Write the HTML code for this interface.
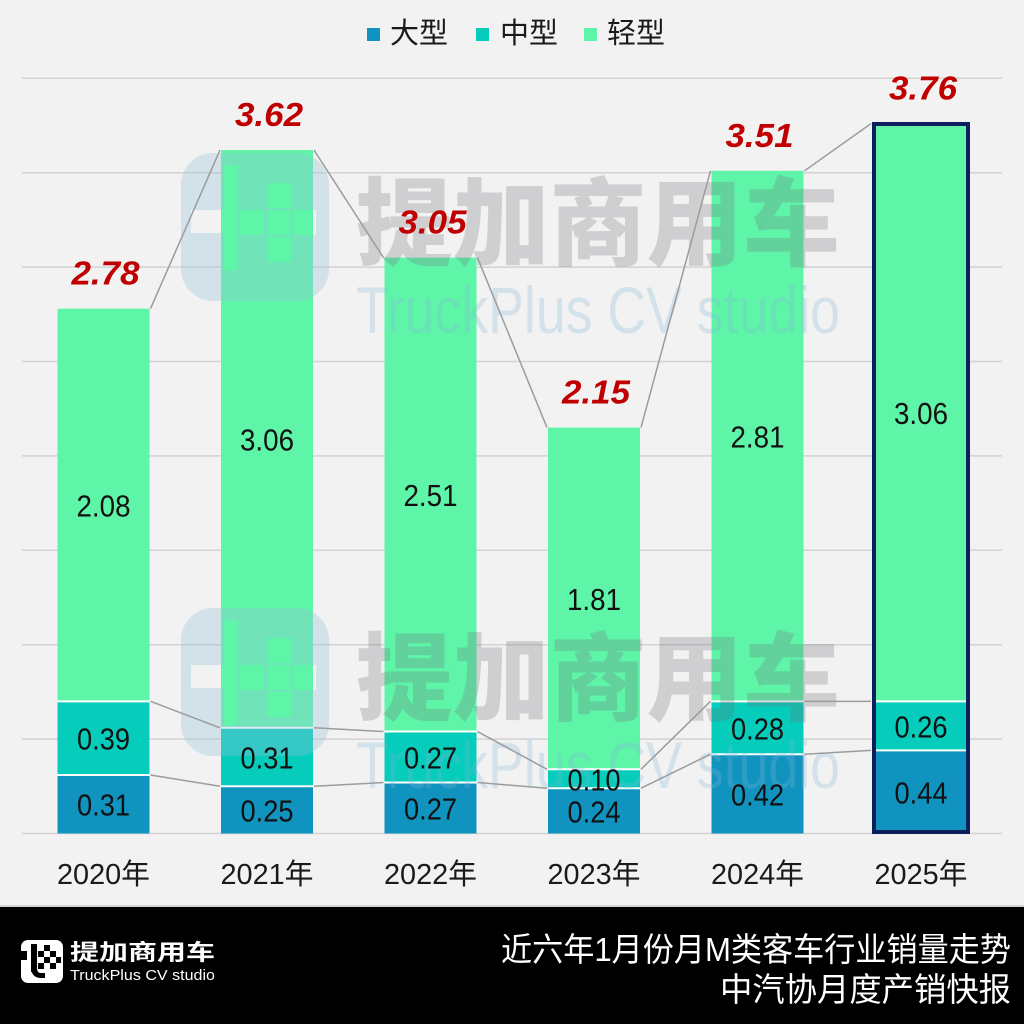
<!DOCTYPE html>
<html><head><meta charset="utf-8"><style>
html,body{margin:0;padding:0;background:#f2f2f2;width:1024px;height:1024px;overflow:hidden}
svg{display:block}
text{font-family:"Liberation Sans","Noto Sans CJK SC",sans-serif}
</style></head><body>
<svg width="1024" height="1024" viewBox="0 0 1024 1024" xmlns="http://www.w3.org/2000/svg">
<rect x="0" y="0" width="1024" height="1024" fill="#f2f2f2"/>
<!-- legend -->
<rect x="367" y="28" width="13" height="13" fill="#1094bf"/>
<text x="390" y="43" font-size="29" fill="#1a1a1a" font-family="'Noto Sans CJK SC',sans-serif">大型</text>
<rect x="476" y="28" width="13" height="13" fill="#06cdbb"/>
<text x="500" y="43" font-size="29" fill="#1a1a1a" font-family="'Noto Sans CJK SC',sans-serif">中型</text>
<rect x="584" y="28" width="13" height="13" fill="#5ff5a9"/>
<text x="607" y="43" font-size="29" fill="#1a1a1a" font-family="'Noto Sans CJK SC',sans-serif">轻型</text>
<!-- gridlines -->
<g stroke="#d3d3d3" stroke-width="1.5">
<line x1="22" y1="78.3" x2="1002" y2="78.3"/>
<line x1="22" y1="172.7" x2="1002" y2="172.7"/>
<line x1="22" y1="267.1" x2="1002" y2="267.1"/>
<line x1="22" y1="361.5" x2="1002" y2="361.5"/>
<line x1="22" y1="455.9" x2="1002" y2="455.9"/>
<line x1="22" y1="550.3" x2="1002" y2="550.3"/>
<line x1="22" y1="644.7" x2="1002" y2="644.7"/>
<line x1="22" y1="739.1" x2="1002" y2="739.1"/>
<line x1="22" y1="833.5" x2="1002" y2="833.5"/>
</g>
<!-- bars -->
<g>
<rect x="57.5" y="774.97" width="92" height="58.53" fill="#1094bf"/>
<rect x="57.5" y="701.34" width="92" height="73.63" fill="#06cdbb"/>
<rect x="57.5" y="308.64" width="92" height="392.7" fill="#5ff5a9"/>

<rect x="221" y="786.3" width="92" height="47.2" fill="#1094bf"/>
<rect x="221" y="727.77" width="92" height="58.53" fill="#06cdbb"/>
<rect x="221" y="150.04" width="92" height="577.73" fill="#5ff5a9"/>

<rect x="384.5" y="782.52" width="92" height="50.98" fill="#1094bf"/>
<rect x="384.5" y="731.55" width="92" height="50.97" fill="#06cdbb"/>
<rect x="384.5" y="257.66" width="92" height="473.89" fill="#5ff5a9"/>

<rect x="548" y="788.19" width="92" height="45.31" fill="#1094bf"/>
<rect x="548" y="769.31" width="92" height="18.88" fill="#06cdbb"/>
<rect x="548" y="427.58" width="92" height="341.73" fill="#5ff5a9"/>

<rect x="711.5" y="754.2" width="92" height="79.3" fill="#1094bf"/>
<rect x="711.5" y="701.34" width="92" height="52.86" fill="#06cdbb"/>
<rect x="711.5" y="170.81" width="92" height="530.53" fill="#5ff5a9"/>

<rect x="873" y="750.43" width="96" height="83.07" fill="#1094bf"/>
<rect x="873" y="701.34" width="96" height="49.09" fill="#06cdbb"/>
<rect x="873" y="123.61" width="96" height="577.73" fill="#5ff5a9"/>
</g>
<!-- white separators -->
<g stroke="#ffffff" stroke-width="2">
<line x1="57.5" y1="774.97" x2="149.5" y2="774.97"/><line x1="57.5" y1="701.34" x2="149.5" y2="701.34"/>
<line x1="221" y1="786.3" x2="313" y2="786.3"/><line x1="221" y1="727.77" x2="313" y2="727.77"/>
<line x1="384.5" y1="782.52" x2="476.5" y2="782.52"/><line x1="384.5" y1="731.55" x2="476.5" y2="731.55"/>
<line x1="548" y1="788.19" x2="640" y2="788.19"/><line x1="548" y1="769.31" x2="640" y2="769.31"/>
<line x1="711.5" y1="754.2" x2="803.5" y2="754.2"/><line x1="711.5" y1="701.34" x2="803.5" y2="701.34"/>
<line x1="873" y1="750.43" x2="969" y2="750.43"/><line x1="873" y1="701.34" x2="969" y2="701.34"/>
</g>
<rect x="874" y="124" width="94" height="708" fill="none" stroke="#0b1f5c" stroke-width="4"/>
<!-- watermarks -->
<g>
<g transform="translate(181,153)">
<path fill-rule="evenodd" fill="rgb(150,190,215)" fill-opacity="0.33" d="M32,0 h84 a32,32 0 0 1 32,32 v84 a32,32 0 0 1 -32,32 h-84 a32,32 0 0 1 -32,-32 v-84 a32,32 0 0 1 32,-32 z M43,12 h13 v105 h-13 z M10,57 h33 v23 h-33 z M86,30 h24 v25 h-24 z M58,57 h25 v25 h-25 z M86,57 h24 v25 h-24 z M113,57 h22 v25 h-22 z M86,84 h24 v25 h-24 z"/>
</g>
<text x="356" y="258" font-size="96" font-weight="900" fill="rgb(110,110,118)" fill-opacity="0.26" textLength="484" lengthAdjust="spacingAndGlyphs" font-family="'Noto Sans CJK SC',sans-serif">提加商用车</text>
<text x="356" y="333" font-size="66" fill="rgb(130,180,215)" fill-opacity="0.27" textLength="484" lengthAdjust="spacingAndGlyphs">TruckPlus CV studio</text>

<g transform="translate(181,608)">
<path fill-rule="evenodd" fill="rgb(150,190,215)" fill-opacity="0.33" d="M32,0 h84 a32,32 0 0 1 32,32 v84 a32,32 0 0 1 -32,32 h-84 a32,32 0 0 1 -32,-32 v-84 a32,32 0 0 1 32,-32 z M43,12 h13 v105 h-13 z M10,57 h33 v23 h-33 z M86,30 h24 v25 h-24 z M58,57 h25 v25 h-25 z M86,57 h24 v25 h-24 z M113,57 h22 v25 h-22 z M86,84 h24 v25 h-24 z"/>
</g>
<text x="356" y="713" font-size="96" font-weight="900" fill="rgb(110,110,118)" fill-opacity="0.26" textLength="484" lengthAdjust="spacingAndGlyphs" font-family="'Noto Sans CJK SC',sans-serif">提加商用车</text>
<text x="356" y="788" font-size="66" fill="rgb(130,180,215)" fill-opacity="0.27" textLength="484" lengthAdjust="spacingAndGlyphs">TruckPlus CV studio</text>
</g>
<!-- connectors -->
<g stroke="#9c9c9c" stroke-width="1.5" fill="none">
<line x1="150.5" y1="308.64" x2="220" y2="150.04"/><line x1="150.5" y1="701.34" x2="220" y2="727.77"/><line x1="150.5" y1="774.97" x2="220" y2="786.3"/>
<line x1="314" y1="150.04" x2="383.5" y2="257.66"/><line x1="314" y1="727.77" x2="383.5" y2="731.55"/><line x1="314" y1="786.3" x2="383.5" y2="782.52"/>
<line x1="477.5" y1="257.66" x2="547" y2="427.58"/><line x1="477.5" y1="731.55" x2="547" y2="769.31"/><line x1="477.5" y1="782.52" x2="547" y2="788.19"/>
<line x1="641" y1="427.58" x2="710.5" y2="170.81"/><line x1="641" y1="769.31" x2="710.5" y2="701.34"/><line x1="641" y1="788.19" x2="710.5" y2="754.2"/>
<line x1="804.5" y1="170.81" x2="871" y2="123.61"/><line x1="804.5" y1="701.34" x2="871" y2="701.34"/><line x1="804.5" y1="754.2" x2="871" y2="750.43"/>
</g>
<!-- inner labels -->
<g font-size="31" fill="#111" text-anchor="middle">
<text x="103.5" y="815.7" textLength="53" lengthAdjust="spacingAndGlyphs">0.31</text>
<text x="103.5" y="749.7" textLength="53" lengthAdjust="spacingAndGlyphs">0.39</text>
<text x="103.5" y="516.5" textLength="54" lengthAdjust="spacingAndGlyphs">2.08</text>
<text x="267" y="821.4" textLength="53" lengthAdjust="spacingAndGlyphs">0.25</text>
<text x="267" y="768.5" textLength="53" lengthAdjust="spacingAndGlyphs">0.31</text>
<text x="267" y="450.4" textLength="54" lengthAdjust="spacingAndGlyphs">3.06</text>
<text x="430.5" y="819.5" textLength="53" lengthAdjust="spacingAndGlyphs">0.27</text>
<text x="430.5" y="768.5" textLength="53" lengthAdjust="spacingAndGlyphs">0.27</text>
<text x="430.5" y="506.1" textLength="54" lengthAdjust="spacingAndGlyphs">2.51</text>
<text x="594" y="822.3" textLength="53" lengthAdjust="spacingAndGlyphs">0.24</text>
<text x="594" y="790.25" textLength="53" lengthAdjust="spacingAndGlyphs">0.10</text>
<text x="594" y="609.9" textLength="54" lengthAdjust="spacingAndGlyphs">1.81</text>
<text x="757.5" y="805.35" textLength="53" lengthAdjust="spacingAndGlyphs">0.42</text>
<text x="757.5" y="739.3" textLength="53" lengthAdjust="spacingAndGlyphs">0.28</text>
<text x="757.5" y="447.6" textLength="54" lengthAdjust="spacingAndGlyphs">2.81</text>
<text x="921" y="803.5" textLength="53" lengthAdjust="spacingAndGlyphs">0.44</text>
<text x="921" y="737.4" textLength="53" lengthAdjust="spacingAndGlyphs">0.26</text>
<text x="921" y="424" textLength="54" lengthAdjust="spacingAndGlyphs">3.06</text>
</g>
<!-- totals -->
<g font-size="33" font-weight="bold" font-style="italic" fill="#c00000" text-anchor="middle">
<text x="105.5" y="284.6" textLength="68" lengthAdjust="spacingAndGlyphs">2.78</text>
<text x="269" y="126" textLength="68" lengthAdjust="spacingAndGlyphs">3.62</text>
<text x="432.5" y="233.7" textLength="68" lengthAdjust="spacingAndGlyphs">3.05</text>
<text x="596" y="403.6" textLength="68" lengthAdjust="spacingAndGlyphs">2.15</text>
<text x="759.5" y="146.8" textLength="68" lengthAdjust="spacingAndGlyphs">3.51</text>
<text x="923" y="99.6" textLength="68" lengthAdjust="spacingAndGlyphs">3.76</text>
</g>
<!-- x labels -->
<g font-size="29" fill="#1a1a1a" text-anchor="middle">
<text x="103.5" y="884" textLength="93" lengthAdjust="spacingAndGlyphs">2020年</text>
<text x="267" y="884" textLength="93" lengthAdjust="spacingAndGlyphs">2021年</text>
<text x="430.5" y="884" textLength="93" lengthAdjust="spacingAndGlyphs">2022年</text>
<text x="594" y="884" textLength="93" lengthAdjust="spacingAndGlyphs">2023年</text>
<text x="757.5" y="884" textLength="93" lengthAdjust="spacingAndGlyphs">2024年</text>
<text x="921" y="884" textLength="93" lengthAdjust="spacingAndGlyphs">2025年</text>
</g>
<!-- footer -->
<rect x="0" y="905" width="1024" height="2" fill="#d6d6d6"/>
<rect x="0" y="907" width="1024" height="117" fill="#000"/>
<rect x="21" y="940" width="42" height="43" rx="7" fill="#fff"/>
<g fill="#000">
<rect x="31" y="944" width="6" height="28"/>
<path d="M31,970 q2,8 10,8 h4 v-5 h-4 q-4,0 -4,-5 z"/>
<rect x="21" y="951" width="6" height="9"/>
<rect x="44" y="945" width="6" height="6"/>
<rect x="38" y="951" width="6" height="6"/>
<rect x="50" y="951" width="6" height="6"/>
<rect x="44" y="957" width="6" height="6"/>
<rect x="56" y="957" width="5" height="6"/>
<rect x="38" y="963" width="6" height="6"/>
<rect x="50" y="963" width="6" height="6"/>
</g>
<text x="70" y="960" font-size="22" font-weight="bold" fill="#fff" textLength="145" lengthAdjust="spacingAndGlyphs" font-family="'Noto Sans CJK SC',sans-serif">提加商用车</text>
<text x="70" y="980" font-size="15" fill="#fff" textLength="145" lengthAdjust="spacingAndGlyphs">TruckPlus CV studio</text>
<text x="1011" y="961" font-size="33" fill="#fff" text-anchor="end" textLength="510" lengthAdjust="spacingAndGlyphs">近六年1月份月M类客车行业销量走势</text>
<text x="1011" y="1001" font-size="33" fill="#fff" text-anchor="end" textLength="291" lengthAdjust="spacingAndGlyphs">中汽协月度产销快报</text>
</svg>
</body></html>
